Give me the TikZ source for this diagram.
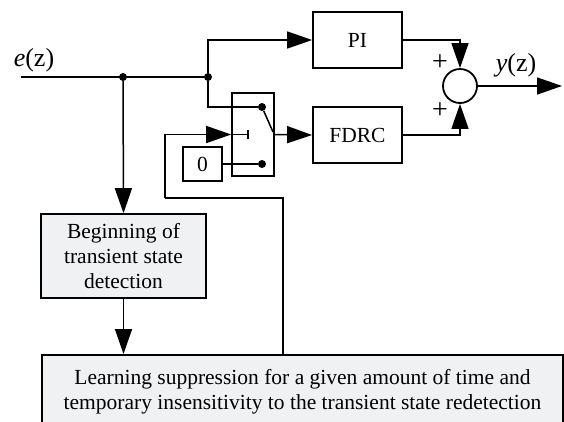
\documentclass[tikz,border=0pt]{standalone}
\usepackage{fontspec}
\setmainfont{Liberation Serif}
\usetikzlibrary{arrows.meta}
\definecolor{boxgray}{RGB}{240,241,243}
\begin{document}
\begin{tikzpicture}[x=1pt,y=-1pt,
  txt/.style={font=\fontsize{21.5}{25}\selectfont},
  lbl/.style={font=\fontsize{26}{30}\selectfont},
  sgn/.style={font=\fontsize{28}{30}\selectfont},
  blk/.style={draw,line width=1.8pt,minimum width=89pt,minimum height=56pt,inner sep=0pt,txt},
  graybox/.style={draw,line width=1.6pt,fill=boxgray,align=center,txt},
  wire/.style={line width=1.5pt},
  arr/.style={wire,-{Triangle[length=25pt,width=17pt]}},
  jdot/.style={circle,fill,inner sep=0pt,minimum size=8pt}]
\useasboundingbox (0,0) rectangle (564,421);

% controller blocks and summing point
\node[blk] (pi) at (357.5,40) {PI};
\node[blk] (fdrc) at (357.5,135) {FDRC};
\node[draw,circle,line width=1.8pt,minimum size=34pt,inner sep=0pt] (sum) at (460,86) {};
\node[sgn] (p1) at (440,63) {+};
\node[sgn] (p2) at (440,111) {+};

% switch and constant input
\node[draw,line width=1.6pt,minimum width=42pt,minimum height=83pt,inner sep=0pt] (sw) at (253,134.5) {};
\node[draw,line width=1.6pt,minimum width=39pt,minimum height=34pt,inner sep=0pt,txt] (zero) at (202.5,164) {0};
\node[jdot] (swa) at (262,107) {};
\node[jdot] (swc) at (262,164) {};
\coordinate (swb) at (273,132);
\coordinate (swt) at (248,134.5);

% detection blocks
\node[graybox,minimum width=165pt,minimum height=84pt,inner sep=1pt] (begin) at (123.5,256)
  {Beginning of\\transient state\\detection};
\node[graybox,anchor=north,minimum width=521pt,inner xsep=0pt,inner ysep=15pt] (learn) at (302.5,354)
  {Learning suppression for a given amount of time and\\temporary insensitivity to the transient state redetection};

% signal labels
\node[lbl] (elab) at (34,60) {\textit{e}(z)};
\node[lbl] (ylab) at (516,65) {\textit{y}(z)};

% junctions on the error line
\coordinate (ein) at (21,77);
\node[jdot] (j1) at (123,77) {};
\node[jdot] (j2) at (208,77) {};
\coordinate (yout) at (562,86);
\coordinate (fb) at (283,354);
\coordinate (fbc) at (165,198);

% connectors
\draw[wire] (ein) -- (j2);
\draw[arr] (j2) |- (pi.west);
\draw[wire] (j2) |- (swa);
\draw[wire] (swa) -- (swb);
\draw[wire] (zero.east) -- (swc);
\draw[arr] (sw.east) -- (fdrc.west);
\draw[wire] (sw.west) -- (swt);
\draw[wire] ([yshift=-4.5pt]swt) -- ([yshift=4.5pt]swt);
\draw[arr] (pi.east) -| (sum.north);
\draw[arr] (fdrc.east) -| (sum.south);
\draw[arr] (sum.east) -- (yout);
\draw[arr] (j1) -- (begin.north);
\draw[arr] (begin.south) -- (begin.south |- learn.north);
\draw[wire] (fb) |- (fbc);
\draw[arr] (fbc) |- (sw.west);
\end{tikzpicture}
\end{document}
